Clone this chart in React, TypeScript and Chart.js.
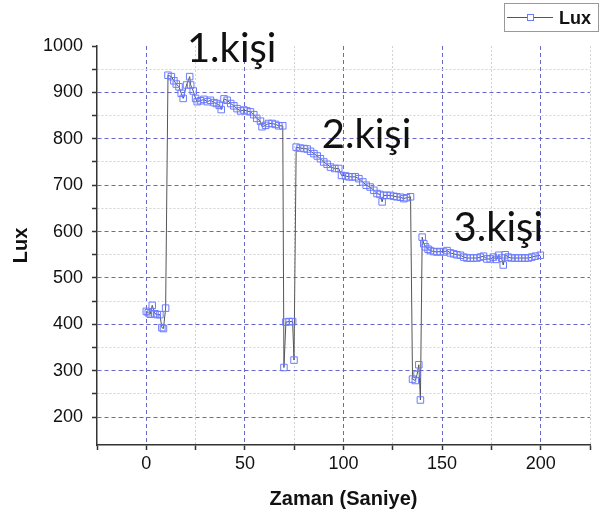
import React, { useEffect, useRef } from 'react';
import { Chart, registerables } from 'chart.js';

Chart.register(...registerables);

// Time (seconds) of each sample
const timeSec = [
  0, 1, 2, 3, 4.4, 5.6, 6.9, 7.9, 8.7, 9.8,
  11, 12.7, 14, 15.2, 16.6, 17.7, 18.7, 20.4, 22, 22.5,
  23.8, 25, 25.8, 27.5, 29.2, 31, 32.5, 34.3, 35.6, 37,
  38, 39.4, 41, 42.8, 44.4, 46, 47.8, 49.5, 51, 52.8,
  54.5, 56, 57.9, 58.7, 60.5, 62, 63.8, 65.5, 67.2, 69.2,
  69.8, 70.8, 72.4, 74.2, 74.9,
  76, 78, 80, 81.6, 83.3, 85, 86.7, 88.3, 90, 91.7,
  93.4, 95.6, 97.6, 99, 101, 102.7, 104.4, 106, 107.8, 109.8,
  111.5, 113.5, 115.4, 117, 118.5, 119.6, 120.4, 122, 123.8, 125.5,
  127, 128.9, 130.6, 131.9, 134,
  135, 136.4, 137.3, 138.2, 139,
  139.9, 140.7, 141.6, 142.9, 144, 145.7, 147.4, 149, 150.8, 152.5,
  154.2, 155.9, 157.5, 159.3, 161, 162.6, 164.3, 166, 167.7, 169.4,
  171, 172.7, 174.4, 176, 177.4, 178.7, 180.2, 181, 182, 183.5,
  185, 187, 188.8, 190.5, 192, 193.8, 195.5, 197.3, 199.8,
];

// Lux values
const luxValues = [
  428, 425, 422, 441, 423, 421, 421, 393, 391, 435,
  937, 934, 925, 918, 912, 898, 887, 916, 934, 916,
  903, 887, 880, 882, 885, 880, 883, 878, 876, 872,
  863, 886, 883, 876, 871, 865, 860, 862, 860, 858,
  852, 844, 838, 826, 829, 833, 833, 831, 828, 828,
  307, 405, 406, 406, 323,
  782, 780, 779, 778, 773, 768, 763, 757, 750, 745,
  739, 736, 736, 721, 720, 718, 718, 718, 714, 707,
  700, 696, 689, 682, 680, 664, 678, 678, 678, 676,
  675, 674, 671, 673, 675,
  282, 279, 292, 313, 237,
  588, 574, 567, 562, 559, 557, 556, 557, 556, 559,
  554, 552, 550, 549, 545, 543, 543, 543, 543, 545,
  547, 541, 541, 545, 540, 549, 543, 528, 550, 545,
  543, 543, 543, 543, 543, 543, 545, 547, 549,
];

const xTicks = [-25, 0, 25, 50, 75, 100, 125, 150, 175, 200, 225];
const xLabels = [0, 50, 100, 150, 200];
const yTicks = [200, 250, 300, 350, 400, 450, 500, 550, 600, 650, 700, 750, 800, 850, 900, 950, 1000];
const yLabels = [200, 300, 400, 500, 600, 700, 800, 900, 1000];

const annoText = ['1.kişi', '2.kişi', '3.kişi'];
const annoX = [20.6, 89, 155.8];
const annoY = [965, 780, 579];

const seriesLabel = 'Lux';
const xTitle = 'Zaman (Saniye)';
const yTitle = 'Lux';

const MARKER = '#6b7bff';
const LINE = '#555555';
const MAJOR = '#6868c8';
const MINOR = '#d2d2d2';

const overlayPlugin = {
  id: 'overlay',
  afterDraw(chart: any) {
    const { ctx, scales } = chart;
    const xs = scales.x;
    const ys = scales.y;
    ctx.save();
    ctx.font = '40px Lato, "Noto Sans", sans-serif';
    ctx.fillStyle = '#111';
    ctx.textBaseline = 'alphabetic';
    ctx.textAlign = 'left';
    annoText.forEach((t, i) => {
      ctx.fillText(t, xs.getPixelForValue(annoX[i]), ys.getPixelForValue(annoY[i]));
    });
    // legend box
    const lx = chart.width - 101;
    const ly = 3;
    ctx.strokeStyle = '#999';
    ctx.lineWidth = 1;
    ctx.strokeRect(lx + 0.5, ly + 0.5, 94, 28);
    ctx.strokeStyle = LINE;
    ctx.beginPath();
    ctx.moveTo(lx + 3, ly + 14.5);
    ctx.lineTo(lx + 49, ly + 14.5);
    ctx.stroke();
    ctx.fillStyle = '#fff';
    ctx.fillRect(lx + 23, ly + 11, 6, 6);
    ctx.strokeStyle = MARKER;
    ctx.strokeRect(lx + 23.5, ly + 11.5, 6, 6);
    ctx.fillStyle = '#111';
    ctx.font = 'bold 18px "Liberation Sans", Arial, sans-serif';
    ctx.fillText(seriesLabel, lx + 55, ly + 21);
    ctx.restore();
  },
};

export default function App() {
  const ref = useRef<HTMLCanvasElement>(null);
  useEffect(() => {
    if (!ref.current) return;
    Chart.defaults.font.family = '"Liberation Sans", Arial, sans-serif';
    Chart.defaults.color = '#111';
    const data = timeSec.map((t, i) => ({ x: t, y: luxValues[i] }));
    const chart = new Chart(ref.current, {
      type: 'line',
      data: {
        datasets: [
          {
            label: seriesLabel,
            data,
            borderColor: LINE,
            borderWidth: 1,
            tension: 0,
            pointStyle: 'rect',
            pointRadius: 4.6,
            pointBorderWidth: 1,
            pointBorderColor: MARKER,
            pointBackgroundColor: 'rgba(255,255,255,0)',
            fill: false,
          },
        ],
      },
      options: {
        responsive: false,
        animation: false,
        events: [],
        layout: { padding: { top: 46, right: 15, left: 0, bottom: 0 } },
        plugins: {
          legend: { display: false },
          tooltip: { enabled: false },
        },
        scales: {
          x: {
            type: 'linear',
            min: -25,
            max: 225,
            afterBuildTicks: (s: any) => {
              s.ticks = xTicks.map((v) => ({ value: v }));
            },
            afterFit: (s: any) => {
              s.height = 72;
            },
            ticks: {
              autoSkip: false,
              maxRotation: 0,
              padding: 3,
              font: { size: 18 },
              color: '#111',
              callback: (v: any) => (xLabels.includes(Number(v)) ? String(v) : ''),
            },
            grid: {
              color: (c: any) => {
                const v = c.tick ? c.tick.value : 0;
                if (v === -25) return 'rgba(0,0,0,0)';
                return v % 50 === 0 ? MAJOR : MINOR;
              },
              lineWidth: 1,
              drawTicks: true,
              tickLength: 5,
              tickColor: '#333',
              tickWidth: 1.5,
            },
            border: {
              display: true,
              color: '#333',
              width: 1.5,
              dash: (c: any) => (c.tick && c.tick.value % 50 === 0 ? [4, 3] : [2, 2]),
            },
            title: {
              display: true,
              text: xTitle,
              font: { size: 20, weight: 'bold' },
              color: '#111',
              padding: { top: 0, bottom: 6 },
            },
          },
          y: {
            type: 'linear',
            min: 140,
            max: 1000,
            afterBuildTicks: (s: any) => {
              s.ticks = yTicks.map((v) => ({ value: v }));
            },
            afterFit: (s: any) => {
              s.width = 97;
            },
            ticks: {
              autoSkip: false,
              padding: 9,
              font: { size: 18 },
              color: '#111',
              callback: (v: any) => (yLabels.includes(Number(v)) ? String(v) : ''),
            },
            grid: {
              color: (c: any) => {
                const v = c.tick ? c.tick.value : 0;
                if (v === 1000) return 'rgba(0,0,0,0)';
                return v % 100 === 0 ? MAJOR : MINOR;
              },
              lineWidth: 1,
              drawTicks: true,
              tickLength: 5,
              tickColor: '#333',
              tickWidth: 1.5,
            },
            border: {
              display: true,
              color: '#333',
              width: 1.5,
              dash: (c: any) => (c.tick && c.tick.value % 100 === 0 ? [4, 3] : [2, 2]),
            },
            title: {
              display: true,
              text: yTitle,
              font: { size: 20, weight: 'bold' },
              color: '#111',
              padding: { top: 9, bottom: 0 },
            },
          },
        },
      },
      plugins: [overlayPlugin],
    });
    return () => chart.destroy();
  }, []);
  return (
    <div style={{ position: 'fixed', left: 0, top: 0, width: 605, height: 517, background: '#fff' }}>
      <canvas ref={ref} width={605} height={517} style={{ display: 'block' }} />
    </div>
  );
}
